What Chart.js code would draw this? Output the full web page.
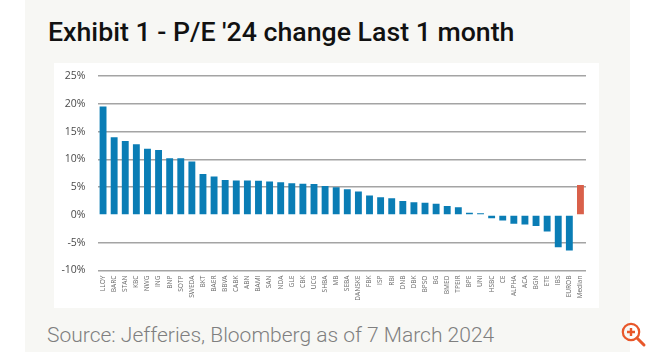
<!DOCTYPE html>
<html><head><meta charset="utf-8">
<style>
html,body{margin:0;padding:0;background:#fff;width:650px;height:352px;overflow:hidden}
#panel{position:absolute;left:25px;top:0;width:605px;height:352px;background:#f7f7f4}
#card{position:absolute;left:54px;top:63px;width:545px;height:245px;background:#fff}
#title{position:absolute;left:48px;top:16px;font:500 26.7px Roboto,sans-serif;color:#111;white-space:nowrap}
#src{position:absolute;left:47px;top:323px;font:300 21px Roboto,sans-serif;color:#7f7f7f;white-space:nowrap}
#wrap{position:absolute;left:54px;top:64px;width:545px;height:245px}
#zoomi{position:absolute;left:621px;top:322px}
</style></head><body>
<div id="panel"></div><div id="card"></div>
<div id="title">Exhibit 1 - P/E '24 change Last 1 month</div>
<div id="src">Source: Jefferies, Bloomberg as of 7 March 2024</div>
<svg id="zoomi" width="26" height="26" viewBox="0 0 26 26"><circle cx="10" cy="10" r="8.2" fill="none" stroke="#e8572a" stroke-width="2.2"/><path d="M16 16l7 7" stroke="#e8572a" stroke-width="3" stroke-linecap="round"/><path d="M10 6v8M6 10h8" stroke="#e8572a" stroke-width="2.4"/></svg>
<div id="wrap"><canvas id="c" width="545" height="245"></canvas></div>
<script src="https://cdn.jsdelivr.net/npm/chart.js@4"></script>
<script>
const categories=["LLOY","BARC","STAN","KBC","NWG","ING","BNP","SOTP","SWEDA","BKT","BAER","BBVA","CABK","ABN","BAMI","SAN","NDA","GLE","CBK","UCG","SHBA","MB","SEBA","DANSKE","FBK","ISP","RBI","DNB","DBK","BPSO","BG","BMED","TPEIR","BPE","UNI","HSBC","CE","ALPHA","ACA","BGN","ETE","IBS","EUROB","Median"];
const peChange=[19.5,14.0,13.3,12.7,11.9,11.7,10.2,10.2,9.6,7.35,6.9,6.3,6.2,6.2,6.15,6.0,5.9,5.7,5.6,5.55,5.2,5.0,4.6,4.2,3.5,3.2,3.0,2.5,2.3,2.2,2.0,1.6,1.4,0.4,0.3,-0.6,-1.0,-1.6,-1.7,-2.0,-3.0,-5.8,-6.4,5.4];
const blue="#0a7db5", red="#d9604a";
const barColors=categories.map(c=>c==="Median"?red:blue);
new Chart(document.getElementById("c"),{
 type:"bar",
 data:{labels:categories,datasets:[{data:peChange,backgroundColor:barColors,barPercentage:0.62,categoryPercentage:1}]},
 options:{
  responsive:false,animation:false,
  layout:{padding:{left:0,right:13,top:12,bottom:0}},
  plugins:{legend:{display:false},tooltip:{enabled:false}},
  scales:{
   y:{min:-10,max:25,
      afterFit(s){s.width=43.5;},
      ticks:{stepSize:5,padding:5,color:"#4a4a4a",font:{family:"'Open Sans'",size:10.5},callback:v=>v+"%"},
      grid:{color:c=>c.tick.value===0?"rgba(0,0,0,0)":"#a4a4a4",lineWidth:1.4,drawTicks:true,tickLength:7,tickColor:"rgba(0,0,0,0)"},
      border:{display:false}},
   x:{afterFit(s){s.height=38.5;},
      ticks:{autoSkip:false,maxRotation:90,minRotation:90,padding:5,color:"#6a6a6a",font:{family:"'Open Sans'",size:6.6}},
      grid:{display:false,drawTicks:false},border:{display:false}}
  }
 }
});
</script></body></html>
